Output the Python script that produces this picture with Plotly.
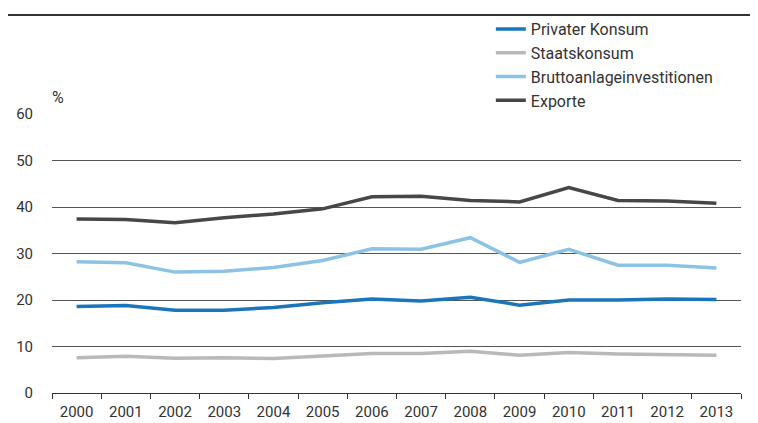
import plotly.graph_objects as go

years = [str(y) for y in range(2000, 2014)]
privater_konsum = [18.6, 18.8, 17.8, 17.8, 18.4, 19.4, 20.2, 19.8, 20.6, 18.9, 20.0, 20.0, 20.2, 20.1]
staatskonsum = [7.6, 7.9, 7.5, 7.6, 7.4, 8.0, 8.5, 8.5, 9.0, 8.1, 8.7, 8.4, 8.3, 8.1]
bruttoanlage = [28.2, 28.0, 26.0, 26.2, 27.0, 28.5, 31.0, 30.9, 33.4, 28.1, 30.9, 27.5, 27.5, 26.9]
exporte = [37.4, 37.3, 36.6, 37.7, 38.5, 39.6, 42.2, 42.3, 41.4, 41.1, 44.2, 41.4, 41.3, 40.8]
y_ticks = [0, 10, 20, 30, 40, 50, 60]

series = [
    ("Privater Konsum", privater_konsum, "#1b75bb"),
    ("Staatskonsum", staatskonsum, "#b8b9b9"),
    ("Bruttoanlageinvestitionen", bruttoanlage, "#8cc3e5"),
    ("Exporte", exporte, "#474747"),
]

FONT = "Roboto, Arial, sans-serif"
OFF = 8  # page body margin offset
W, H = 758, 423
L, R, T, B = 52 - OFF, 17 + OFF, 114 - OFF, 30 + OFF
PW, PH = W - L - R, H - T - B

fig = go.Figure()
for name, vals, col in series:
    fig.add_trace(go.Scatter(x=years, y=vals, name=name, mode="lines",
                             line=dict(color=col, width=3.5)))

fig.update_layout(
    width=W, height=H,
    margin=dict(l=L, r=R, t=T, b=B, autoexpand=False),
    paper_bgcolor="white", plot_bgcolor="white",
    font=dict(family=FONT, size=15, color="#333333"),
    showlegend=True,
    legend=dict(xref="container", yref="container", x=0.637, xanchor="left",
                y=0.9905, yanchor="top",
                bgcolor="rgba(0,0,0,0)", font=dict(size=16, color="#333333"),
                tracegroupgap=0, itemwidth=30),
    xaxis=dict(type="category", tickson="boundaries", ticks="outside", ticklen=5,
               tickcolor="#333333", showline=True, linecolor="#333333", linewidth=1,
               showgrid=False, zeroline=False, tickfont=dict(size=15),
               ticklabelstandoff=5,
               range=[-0.5, 13.5], automargin=False),
    yaxis=dict(range=[0, 60], tickvals=y_ticks, showgrid=True, gridcolor="#555555",
               gridwidth=1, zeroline=False, showline=False, ticks="",
               ticklabelstandoff=18, tickfont=dict(size=15), automargin=False),
    shapes=[dict(type="line", xref="paper", yref="paper",
                 x0=(0 - L) / PW, x1=(W - L) / PW,
                 y0=(393 - 15) / PH, y1=(393 - 15) / PH,
                 line=dict(color="#333333", width=2))],
    annotations=[dict(text="%", xref="paper", yref="paper", x=(50 - 52) / PW,
                      y=(393 - 97) / PH,
                      xanchor="left", yanchor="middle", showarrow=False,
                      font=dict(size=16, color="#333333"))],
)

fig.write_html("out.html")
